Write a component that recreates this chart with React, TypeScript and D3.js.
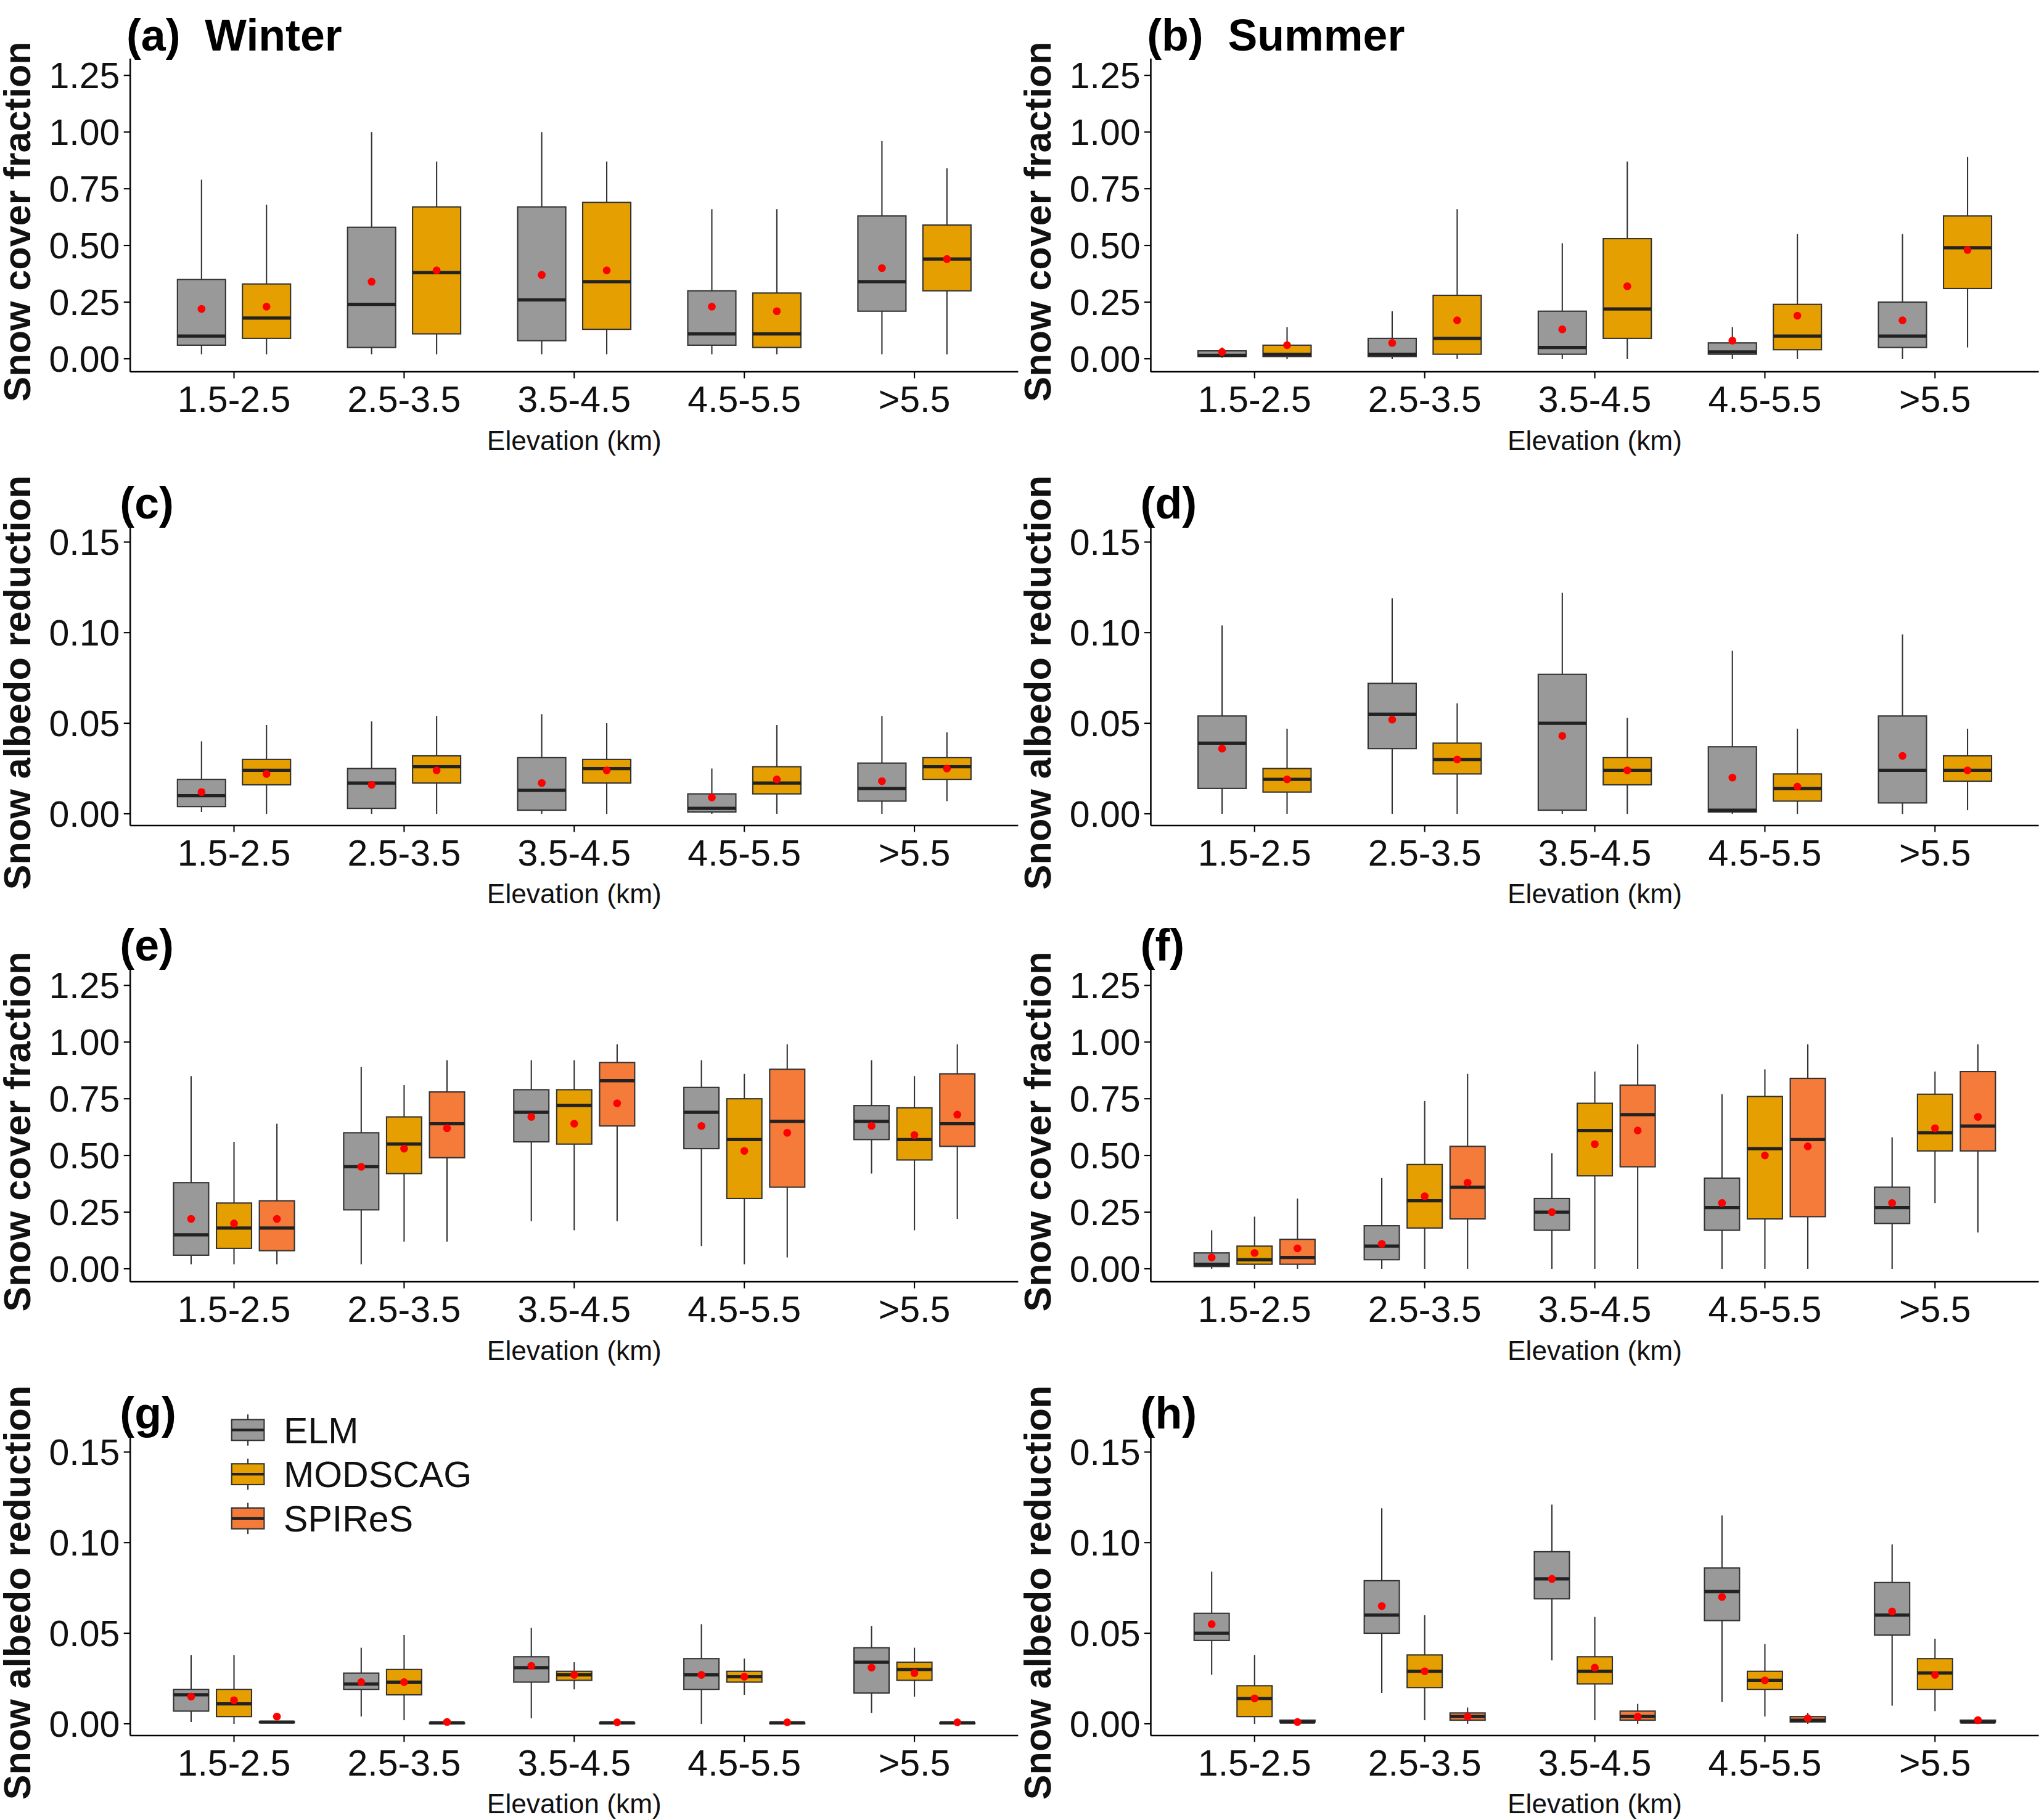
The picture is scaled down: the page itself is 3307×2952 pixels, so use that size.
import * as d3 from 'd3';

const categories = ['1.5-2.5', '2.5-3.5', '3.5-4.5', '4.5-5.5', '>5.5'];
const seriesNames = ['ELM', 'MODSCAG', 'SPIReS'];
const seriesColors = ['#999999', '#E69F00', '#F47B3A'];
const scfTicks = [0, 0.25, 0.5, 0.75, 1.0, 1.25];
const albTicks = [0, 0.05, 0.1, 0.15];

// each box: [low whisker, q1, median, q3, high whisker, mean]
const aElm = [[0.02, 0.06, 0.10, 0.35, 0.79, 0.22], [0.02, 0.05, 0.24, 0.58, 1.0, 0.34], [0.02, 0.08, 0.26, 0.67, 1.0, 0.37], [0.02, 0.06, 0.11, 0.30, 0.66, 0.23], [0.02, 0.21, 0.34, 0.63, 0.96, 0.40]];
const aMod = [[0.02, 0.09, 0.18, 0.33, 0.68, 0.23], [0.02, 0.11, 0.38, 0.67, 0.87, 0.39], [0.02, 0.13, 0.34, 0.69, 0.87, 0.39], [0.02, 0.05, 0.11, 0.29, 0.66, 0.21], [0.02, 0.30, 0.44, 0.59, 0.84, 0.44]];
const bElm = [[0.005, 0.01, 0.015, 0.035, 0.05, 0.03], [0, 0.01, 0.02, 0.09, 0.21, 0.07], [0, 0.02, 0.05, 0.21, 0.51, 0.13], [0, 0.02, 0.03, 0.07, 0.14, 0.08], [0, 0.05, 0.10, 0.25, 0.55, 0.17]];
const bMod = [[0, 0.01, 0.02, 0.06, 0.14, 0.06], [0, 0.02, 0.09, 0.28, 0.66, 0.17], [0, 0.09, 0.22, 0.53, 0.87, 0.32], [0, 0.04, 0.10, 0.24, 0.55, 0.19], [0.05, 0.31, 0.49, 0.63, 0.89, 0.48]];
const cElm = [[0.001, 0.004, 0.010, 0.019, 0.040, 0.012], [0, 0.003, 0.017, 0.025, 0.051, 0.016], [0, 0.002, 0.013, 0.031, 0.055, 0.017], [0, 0.001, 0.003, 0.011, 0.025, 0.009], [0, 0.007, 0.014, 0.028, 0.054, 0.018]];
const cMod = [[0, 0.016, 0.024, 0.030, 0.049, 0.022], [0, 0.017, 0.026, 0.032, 0.054, 0.024], [0, 0.017, 0.025, 0.030, 0.050, 0.024], [0, 0.011, 0.017, 0.026, 0.049, 0.019], [0.007, 0.019, 0.026, 0.031, 0.045, 0.025]];
const dElm = [[0, 0.014, 0.039, 0.054, 0.104, 0.036], [0, 0.036, 0.055, 0.072, 0.119, 0.052], [0, 0.002, 0.050, 0.077, 0.122, 0.043], [0, 0.001, 0.002, 0.037, 0.090, 0.020], [0, 0.006, 0.024, 0.054, 0.099, 0.032]];
const dMod = [[0, 0.012, 0.019, 0.025, 0.047, 0.019], [0, 0.022, 0.030, 0.039, 0.061, 0.030], [0, 0.016, 0.024, 0.031, 0.053, 0.024], [0, 0.007, 0.014, 0.022, 0.047, 0.015], [0.002, 0.018, 0.024, 0.032, 0.047, 0.024]];
const eElm = [[0.02, 0.06, 0.15, 0.38, 0.85, 0.22], [0.02, 0.26, 0.45, 0.60, 0.89, 0.45], [0.21, 0.56, 0.69, 0.79, 0.92, 0.67], [0.10, 0.53, 0.69, 0.80, 0.92, 0.63], [0.42, 0.57, 0.65, 0.72, 0.92, 0.63]];
const eMod = [[0.02, 0.09, 0.18, 0.29, 0.56, 0.20], [0.12, 0.42, 0.55, 0.67, 0.81, 0.53], [0.17, 0.55, 0.72, 0.79, 0.92, 0.64], [0.02, 0.31, 0.57, 0.75, 0.86, 0.52], [0.17, 0.48, 0.57, 0.71, 0.85, 0.59]];
const eSpi = [[0.02, 0.08, 0.18, 0.30, 0.64, 0.22], [0.12, 0.49, 0.64, 0.78, 0.92, 0.62], [0.21, 0.63, 0.83, 0.91, 0.99, 0.73], [0.05, 0.36, 0.65, 0.88, 0.99, 0.60], [0.22, 0.54, 0.64, 0.86, 0.99, 0.68]];
const fElm = [[0, 0.01, 0.02, 0.07, 0.17, 0.05], [0, 0.04, 0.10, 0.19, 0.40, 0.11], [0, 0.17, 0.25, 0.31, 0.51, 0.25], [0, 0.17, 0.27, 0.40, 0.77, 0.29], [0, 0.20, 0.27, 0.36, 0.58, 0.29]];
const fMod = [[0, 0.02, 0.04, 0.10, 0.23, 0.07], [0, 0.18, 0.30, 0.46, 0.74, 0.32], [0, 0.41, 0.61, 0.73, 0.87, 0.55], [0, 0.22, 0.53, 0.76, 0.88, 0.50], [0.29, 0.52, 0.60, 0.77, 0.87, 0.62]];
const fSpi = [[0, 0.02, 0.05, 0.13, 0.31, 0.09], [0, 0.22, 0.36, 0.54, 0.86, 0.38], [0, 0.45, 0.68, 0.81, 0.99, 0.61], [0, 0.23, 0.57, 0.84, 0.99, 0.54], [0.16, 0.52, 0.63, 0.87, 0.99, 0.67]];
const gElm = [[0.001, 0.007, 0.016, 0.019, 0.038, 0.015], [0.004, 0.019, 0.022, 0.028, 0.042, 0.023], [0.003, 0.023, 0.031, 0.037, 0.053, 0.032], [0, 0.019, 0.027, 0.036, 0.055, 0.027], [0.006, 0.017, 0.034, 0.042, 0.054, 0.031]];
const gMod = [[0, 0.004, 0.011, 0.019, 0.038, 0.013], [0.002, 0.016, 0.023, 0.030, 0.049, 0.023], [0.019, 0.024, 0.027, 0.029, 0.034, 0.027], [0.016, 0.023, 0.026, 0.029, 0.036, 0.026], [0.015, 0.024, 0.030, 0.034, 0.042, 0.028]];
const gSpi = [[0.001, 0.001, 0.001, 0.001, 0.001, 0.004], [0.0005, 0.0005, 0.0005, 0.0005, 0.0005, 0.001], [0.0005, 0.0005, 0.0005, 0.0005, 0.0005, 0.0008], [0.0005, 0.0005, 0.0005, 0.0005, 0.0005, 0.0008], [0.0005, 0.0005, 0.0005, 0.0005, 0.0005, 0.0008]];
const hElm = [[0.027, 0.046, 0.050, 0.061, 0.084, 0.055], [0.017, 0.050, 0.060, 0.079, 0.119, 0.065], [0.035, 0.069, 0.080, 0.095, 0.121, 0.080], [0.012, 0.057, 0.073, 0.086, 0.115, 0.070], [0.010, 0.049, 0.060, 0.078, 0.099, 0.062]];
const hMod = [[0, 0.004, 0.014, 0.021, 0.038, 0.014], [0.002, 0.020, 0.029, 0.038, 0.060, 0.029], [0.002, 0.022, 0.029, 0.037, 0.059, 0.031], [0.004, 0.019, 0.024, 0.029, 0.044, 0.024], [0.007, 0.019, 0.028, 0.036, 0.047, 0.027]];
const hSpi = [[0, 0.001, 0.001, 0.002, 0.003, 0.001], [0, 0.002, 0.004, 0.006, 0.009, 0.004], [0, 0.002, 0.004, 0.007, 0.011, 0.004], [0, 0.001, 0.002, 0.004, 0.006, 0.003], [0, 0.001, 0.001, 0.002, 0.003, 0.002]];

type Row = { top: number; yMax: number; yMaxPx: number; zero: number; axis: number };
const rows: Row[] = [
  { top: 45, yMax: 1.25, yMaxPx: 58, zero: 276, axis: 286 },
  { top: 405, yMax: 0.15, yMaxPx: 417, zero: 626, axis: 635 },
  { top: 745, yMax: 1.25, yMaxPx: 758, zero: 976, axis: 986 },
  { top: 1105, yMax: 0.15, yMaxPx: 1117, zero: 1326, axis: 1335 },
];
const colLeft = [100, 885];
const panelW = 683;

const panels = [
  { label: '(a)  Winter', row: 0, col: 0, data: [aElm, aMod] },
  { label: '(b)  Summer', row: 0, col: 1, data: [bElm, bMod] },
  { label: '(c)', row: 1, col: 0, data: [cElm, cMod] },
  { label: '(d)', row: 1, col: 1, data: [dElm, dMod] },
  { label: '(e)', row: 2, col: 0, data: [eElm, eMod, eSpi] },
  { label: '(f)', row: 2, col: 1, data: [fElm, fMod, fSpi] },
  { label: '(g)', row: 3, col: 0, data: [gElm, gMod, gSpi] },
  { label: '(h)', row: 3, col: 1, data: [hElm, hMod, hSpi] },
];

const FONT = '"Liberation Sans", Arial, sans-serif';

function Panel({ p }: { p: (typeof panels)[0] }) {
  const r = rows[p.row];
  const left = colLeft[p.col];
  const isScf = r.yMax > 1;
  const ticks = isScf ? scfTicks : albTicks;
  const y = d3.scaleLinear().domain([0, r.yMax]).range([r.zero, r.yMaxPx]);
  const x = d3.scaleBand().domain(categories).range([left, left + panelW]).paddingOuter(0.11).paddingInner(0);
  const n = p.data.length;
  const off = n === 2 ? 50 : 33;
  const bw = n === 2 ? 37 : 27;
  const fmt = d3.format('.2f');
  const cx = left + panelW / 2;
  return (
    <g>
      <line x1={left} x2={left} y1={r.top} y2={r.axis} stroke="#000" strokeWidth={1.2} />
      <line x1={left} x2={left + panelW} y1={r.axis} y2={r.axis} stroke="#000" strokeWidth={1.2} />
      {ticks.map((t) => (
        <g key={t}>
          <line x1={left - 5} x2={left} y1={y(t)} y2={y(t)} stroke="#000" />
          <text x={left - 8} y={y(t) + 10} textAnchor="end" fontSize={28} fill="#111">{fmt(t)}</text>
        </g>
      ))}
      {categories.map((c) => (
        <g key={c}>
          <line x1={x(c)! + x.bandwidth() / 2} x2={x(c)! + x.bandwidth() / 2} y1={r.axis} y2={r.axis + 5} stroke="#000" />
          <text x={x(c)! + x.bandwidth() / 2} y={r.axis + 31} textAnchor="middle" fontSize={28} fill="#111">{c}</text>
        </g>
      ))}
      <text x={cx} y={r.axis + 60} textAnchor="middle" fontSize={21} fill="#111">Elevation (km)</text>
      <text transform={`translate(${left - 77},${(r.top + r.axis) / 2 + 5}) rotate(-90)`} textAnchor="middle" fontSize={29} fontWeight="bold" fill="#111">
        {isScf ? 'Snow cover fraction' : 'Snow albedo reduction'}
      </text>
      <text x={p.label.length > 3 ? left - 3 : left - 8} y={r.top - 6} fontSize={34} fontWeight="bold" fill="#000" style={{ whiteSpace: 'pre' }}>
        {p.label}
      </text>
      {p.data.map((series, si) =>
        series.map((b, ci) => {
          const c = x(categories[ci])! + x.bandwidth() / 2 + (si - (n - 1) / 2) * off;
          const [lo, q1, med, q3, hi, mean] = b;
          return (
            <g key={`${si}-${ci}`}>
              <line x1={c} x2={c} y1={y(hi)} y2={y(q3)} stroke="#333" strokeWidth={1} />
              <line x1={c} x2={c} y1={y(q1)} y2={y(lo)} stroke="#333" strokeWidth={1} />
              <rect x={c - bw / 2} y={y(q3)} width={bw} height={Math.max(y(q1) - y(q3), 0.5)} fill={seriesColors[si]} stroke="#333" strokeWidth={1} />
              <line x1={c - bw / 2} x2={c + bw / 2} y1={y(med)} y2={y(med)} stroke="#222" strokeWidth={2.5} />
              <circle cx={c} cy={y(mean)} r={3} fill="#FF0000" />
            </g>
          );
        })
      )}
    </g>
  );
}

function Legend() {
  return (
    <g>
      {seriesNames.map((s, i) => (
        <g key={s} transform={`translate(178,${1100 + i * 34})`}>
          <line x1={12.5} x2={12.5} y1={-12} y2={12} stroke="#333" />
          <rect x={0} y={-8} width={25} height={16} fill={seriesColors[i]} stroke="#333" />
          <line x1={0} x2={25} y1={0} y2={0} stroke="#222" strokeWidth={2} />
          <text x={40} y={10} fontSize={28} fill="#111">{s}</text>
        </g>
      ))}
    </g>
  );
}

export default function App() {
  return (
    <svg width={3307} height={2952} viewBox="0 0 1568 1400" style={{ position: 'absolute', left: 0, top: 0, background: '#fff' }} fontFamily={FONT}>
      <rect width={1568} height={1400} fill="#fff" />
      {panels.map((p) => (
        <Panel key={p.label} p={p} />
      ))}
      <Legend />
    </svg>
  );
}
